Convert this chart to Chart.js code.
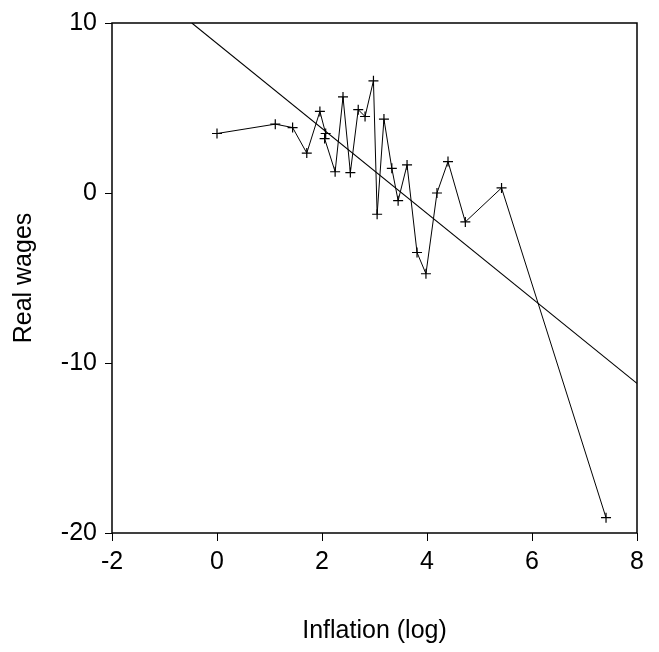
<!DOCTYPE html>
<html>
<head>
<meta charset="utf-8">
<script src="https://cdn.jsdelivr.net/npm/chart.js@4.4.1/dist/chart.umd.min.js"></script>
<style>
  html, body { margin: 0; padding: 0; background: #fff; }
  #wrap { width: 659px; height: 652px; position: relative; }
</style>
</head>
<body>
<div id="wrap"><canvas id="c" width="659" height="652"></canvas></div>
<script>
// Observed series: inflation (log) vs real wages
const inflation = [0.00, 1.11, 1.44, 1.71, 1.96, 2.07, 2.05, 2.25, 2.40, 2.54, 2.69, 2.82, 2.98, 3.05, 3.18, 3.33, 3.45, 3.62, 3.81, 3.98, 4.19, 4.40, 4.73, 5.42, 7.41];
const realWages = [3.50, 4.05, 3.85, 2.35, 4.80, 3.50, 3.20, 1.25, 5.65, 1.20, 4.90, 4.50, 6.60, -1.25, 4.35, 1.45, -0.45, 1.65, -3.50, -4.75, 0.00, 1.85, -1.70, 0.30, -19.10];

// Fitted regression line (endpoints)
const fitX = [-0.48, 8.00];
const fitY = [10.00, -11.20];

// Axis ticks
const xTicks = [-2, 0, 2, 4, 6, 8];
const yTicks = [-20, -10, 0, 10];

const pts = inflation.map((x, i) => ({ x: x, y: realWages[i] }));
const fit = fitX.map((x, i) => ({ x: x, y: fitY[i] }));

const frame = {
  id: 'frame',
  afterDatasetsDraw(chart) {
    const a = chart.chartArea, ctx = chart.ctx;
    ctx.save();
    ctx.strokeStyle = '#000';
    ctx.lineWidth = 1.5;
    ctx.strokeRect(a.left, a.top, a.right - a.left, a.bottom - a.top);
    ctx.restore();
  }
};

const FONT = "'Liberation Sans', Arial, sans-serif";

new Chart(document.getElementById('c'), {
  type: 'scatter',
  data: {
    datasets: [
      {
        data: pts,
        showLine: true,
        borderColor: '#000',
        borderWidth: 1,
        pointStyle: 'cross',
        pointRadius: 5,
        pointBorderWidth: 1.2,
        pointBorderColor: '#000',
        pointBackgroundColor: '#000',
        tension: 0
      },
      {
        data: fit,
        showLine: true,
        borderColor: '#000',
        borderWidth: 1.1,
        pointRadius: 0,
        tension: 0
      }
    ]
  },
  options: {
    responsive: false,
    animation: false,
    devicePixelRatio: 1,
    layout: { padding: { top: 21, right: 22, left: 0, bottom: 0 } },
    plugins: { legend: { display: false }, tooltip: { enabled: false } },
    scales: {
      x: {
        type: 'linear',
        min: -2, max: 8,
        afterBuildTicks: (s) => { s.ticks = xTicks.map(v => ({ value: v })); },
        afterFit: (s) => { s.height = 119; },
        border: { display: false },
        grid: { drawOnChartArea: false, drawTicks: true, tickLength: 8, color: '#000', lineWidth: 1 },
        ticks: { color: '#000', font: { family: FONT, size: 25 }, padding: 6, maxRotation: 0 },
        title: { display: true, text: 'Inflation (log)', color: '#000', font: { family: FONT, size: 25, lineHeight: 1.2 }, padding: { top: 0, bottom: 6 } }
      },
      y: {
        type: 'linear',
        min: -20, max: 10,
        afterBuildTicks: (s) => { s.ticks = yTicks.map(v => ({ value: v })); },
        afterFit: (s) => { s.width = 112; },
        border: { display: false },
        grid: { drawOnChartArea: false, drawTicks: true, tickLength: 7, color: '#000', lineWidth: 1 },
        ticks: { color: '#000', font: { family: FONT, size: 25 }, padding: 8 },
        title: { display: true, text: 'Real wages', color: '#000', font: { family: FONT, size: 25, lineHeight: 1.2 }, padding: { top: 9, bottom: 0 } }
      }
    }
  },
  plugins: [frame]
});
</script>
</body>
</html>
